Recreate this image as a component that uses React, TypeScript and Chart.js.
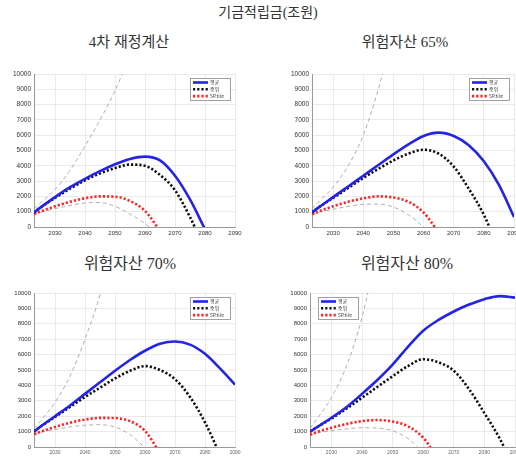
import React, { useEffect, useRef } from 'react';
import { Chart, registerables } from 'chart.js';

Chart.register(...registerables);

// ---------- data ----------
const years = [2023, 2025, 2030, 2035, 2040, 2045, 2050, 2055, 2060, 2065, 2070, 2075, 2080, 2085, 2090];
const xTickYears = [2030, 2040, 2050, 2060, 2070, 2080, 2090];
const yTickValues = [0, 1000, 2000, 3000, 4000, 5000, 6000, 7000, 8000, 9000, 10000];
const seriesLabels = ['평균', '중위', '5P.tile'];

const mainTitle = '기금적립금(조원)';
const panelTitles = ['4차 재정계산', '위험자산 65%', '위험자산 70%', '위험자산 80%'];

// 4차 재정계산
const meanBase = [950, 1250, 1950, 2600, 3150, 3650, 4100, 4450, 4600, 4350, 3350, 1800, -150, null, null];
const medianBase = [950, 1250, 1900, 2500, 3050, 3500, 3850, 4080, 4000, 3400, 2400, 650, -1500, null, null];
const p5Base = [850, 1000, 1350, 1650, 1880, 2000, 1980, 1700, 1050, -250, null, null, null, null, null];
const upperBase = [1200, 1550, 2450, 3700, 5300, 7000, 8900, 11300, null, null, null, null, null, null, null];
const lowerBase = [850, 950, 1200, 1400, 1570, 1600, 1350, 850, 220, -600, null, null, null, null, null];

// 위험자산 65%
const mean65 = [950, 1250, 1950, 2650, 3350, 4050, 4750, 5400, 5950, 6170, 5950, 5350, 4300, 2750, 650];
const median65 = [950, 1250, 1900, 2550, 3200, 3800, 4350, 4800, 5050, 4800, 3950, 2500, 800, -1500, null];
const p5_65 = [830, 1000, 1350, 1650, 1870, 2000, 1930, 1650, 950, -350, null, null, null, null, null];
const upper65 = [1200, 1600, 2600, 4000, 6000, 9000, 12800, null, null, null, null, null, null, null, null];
const lower65 = [850, 950, 1150, 1350, 1480, 1500, 1300, 800, 0, -900, null, null, null, null, null];

// 위험자산 70%
const mean70 = [1000, 1300, 2000, 2700, 3450, 4200, 4950, 5650, 6250, 6700, 6850, 6650, 6050, 5100, 4050];
const median70 = [1000, 1300, 1950, 2600, 3250, 3850, 4450, 4950, 5250, 5000, 4400, 3250, 1600, -500, null];
const p5_70 = [830, 980, 1300, 1580, 1780, 1890, 1880, 1680, 1050, -400, null, null, null, null, null];
const upper70 = [1200, 1650, 2900, 4600, 7000, 9900, 14000, null, null, null, null, null, null, null, null];
const lower70 = [850, 950, 1130, 1300, 1420, 1450, 1300, 800, -50, -1000, null, null, null, null, null];

// 위험자산 80%
const mean80 = [1000, 1250, 1900, 2600, 3450, 4350, 5350, 6500, 7550, 8250, 8800, 9250, 9600, 9800, 9700];
const median80 = [1000, 1250, 1850, 2500, 3200, 3900, 4600, 5250, 5700, 5500, 4950, 3750, 2200, 550, -1500];
const p5_80 = [800, 950, 1250, 1500, 1680, 1750, 1650, 1350, 600, -800, null, null, null, null, null];
const upper80 = [1200, 1750, 3200, 5300, 8400, 13000, null, null, null, null, null, null, null, null, null];
const lower80 = [800, 900, 1050, 1180, 1250, 1230, 1050, 550, -350, null, null, null, null, null, null];

type Series = (number | null)[];

const boxLegend = {
  id: 'boxLegend',
  afterDatasetsDraw(chart: any, _args: any, opts: any) {
    const { ctx, chartArea } = chart;
    const w = 40;
    const h = 22;
    const x = opts.side === 'left' ? chartArea.left + 8 : chartArea.right - 5 - w;
    const y = chartArea.top + 4;
    ctx.save();
    ctx.fillStyle = '#ffffff';
    ctx.fillRect(x, y, w, h);
    ctx.strokeStyle = '#8a8a8a';
    ctx.lineWidth = 0.8;
    ctx.strokeRect(x + 0.5, y + 0.5, w, h);
    chart.data.datasets.slice(0, 3).forEach((ds: any, i: number) => {
      const ly = y + 4.5 + i * 6.8;
      ctx.beginPath();
      ctx.setLineDash(ds.borderDash || []);
      ctx.strokeStyle = ds.borderColor;
      ctx.lineWidth = ds.borderWidth;
      ctx.moveTo(x + 3, ly);
      ctx.lineTo(x + 18, ly);
      ctx.stroke();
      ctx.setLineDash([]);
      ctx.fillStyle = '#444';
      ctx.font = '5px "Noto Sans CJK KR", sans-serif';
      ctx.textBaseline = 'middle';
      ctx.textAlign = 'left';
      ctx.fillText(ds.label, x + 20, ly);
    });
    ctx.restore();
  },
};

type PanelProps = {
  left: number;
  top: number;
  width: number;
  height: number;
  padTop: number;
  padRight: number;
  xAxisH: number;
  xFont: number;
  yFont: number;
  xColor: string;
  mean: Series;
  median: Series;
  p5: Series;
  upper: Series;
  lower: Series;
  side: 'left' | 'right';
};

function Panel(p: PanelProps) {
  const ref = useRef<HTMLCanvasElement>(null);
  useEffect(() => {
    if (!ref.current) return;
    const mk = (label: string, data: Series, color: string, width: number, dash: number[]) => ({
      label,
      data: years.map((x, i) => ({ x, y: data[i] })),
      borderColor: color,
      backgroundColor: color,
      borderWidth: width,
      borderDash: dash,
      borderCapStyle: 'butt',
      pointRadius: 0,
      fill: false,
      cubicInterpolationMode: 'monotone',
      spanGaps: false,
    });
    const chart = new Chart(ref.current, {
      type: 'line',
      data: {
        datasets: [
          mk(seriesLabels[0], p.mean, '#2424e8', 2.6, []),
          mk(seriesLabels[1], p.median, '#111111', 2.6, [2.2, 2]),
          mk(seriesLabels[2], p.p5, '#ff2424', 2.6, [2.2, 2]),
          mk('95P', p.upper, '#9a9a9a', 0.8, [4, 3]),
          mk('5P lower', p.lower, '#9a9a9a', 0.8, [4, 3]),
        ] as any,
      },
      options: {
        animation: false,
        responsive: false,
        devicePixelRatio: 1,
        layout: { padding: { top: p.padTop, right: p.padRight, left: 0, bottom: 0 } },
        plugins: {
          legend: { display: false },
          tooltip: { enabled: false },
          boxLegend: { side: p.side },
        } as any,
        scales: {
          x: {
            type: 'linear',
            min: 2023,
            max: 2090,
            afterBuildTicks: (s: any) => {
              s.ticks = xTickYears.map((v) => ({ value: v }));
            },
            afterFit: (s: any) => {
              s.height = p.xAxisH;
            },
            grid: { color: '#e4e4e4', lineWidth: 0.8, drawTicks: false },
            border: { color: '#9a9a9a', width: 1 },
            ticks: {
              padding: 3,
              autoSkip: false,
              maxRotation: 0,
              color: p.xColor,
              font: { family: '"Liberation Sans", Arial, sans-serif', size: p.xFont },
              callback: (v: any) => String(v),
            },
          },
          y: {
            min: 0,
            max: 10000,
            afterBuildTicks: (s: any) => {
              s.ticks = yTickValues.map((v) => ({ value: v }));
            },
            afterFit: (s: any) => {
              s.width = 34;
            },
            grid: { color: '#e4e4e4', lineWidth: 0.8, drawTicks: false },
            border: { color: '#9a9a9a', width: 1 },
            ticks: {
              padding: 3,
              autoSkip: false,
              color: '#333',
              font: { family: '"Liberation Sans", Arial, sans-serif', size: p.yFont },
              callback: (v: any) => String(v),
            },
          },
        },
      } as any,
      plugins: [boxLegend as any],
    });
    return () => chart.destroy();
  }, []);
  return (
    <canvas
      ref={ref}
      width={p.width}
      height={p.height}
      style={{ position: 'absolute', left: p.left, top: p.top, width: p.width, height: p.height, display: 'block' }}
    />
  );
}

const titleFont = '"Liberation Serif", "Noto Sans CJK KR", serif';

function Title({ text, x, y, size }: { text: string; x: number; y: number; size: number }) {
  return (
    <div
      style={{
        position: 'absolute',
        left: x,
        top: y,
        transform: 'translate(-50%, -50%)',
        whiteSpace: 'nowrap',
        fontFamily: titleFont,
        fontSize: size,
        color: '#333',
        lineHeight: 1,
      }}
    >
      {text}
    </div>
  );
}

export default function App() {
  return (
    <div
      style={{
        position: 'fixed',
        left: 0,
        top: 0,
        width: 516,
        height: 457,
        overflow: 'hidden',
        background: '#fff',
      }}
    >
      <Title text={mainTitle} x={268} y={13} size={14} />
      <Title text={panelTitles[0]} x={129} y={42} size={15} />
      <Title text={panelTitles[1]} x={405} y={42} size={15} />
      <Title text={panelTitles[2]} x={130} y={264} size={16} />
      <Title text={panelTitles[3]} x={407} y={264} size={16} />
      <Panel
        left={0} top={60} width={250} height={185} padTop={14} padRight={15} xAxisH={18}
        xFont={6} yFont={6.5} xColor="#333"
        mean={meanBase} median={medianBase} p5={p5Base} upper={upperBase} lower={lowerBase} side="right"
      />
      <Panel
        left={278} top={60} width={252} height={185} padTop={14} padRight={16} xAxisH={18}
        xFont={6} yFont={6.5} xColor="#333"
        mean={mean65} median={median65} p5={p5_65} upper={upper65} lower={lower65} side="right"
      />
      <Panel
        left={0} top={280} width={250} height={177} padTop={13} padRight={15} xAxisH={10}
        xFont={5} yFont={6} xColor="#666"
        mean={mean70} median={median70} p5={p5_70} upper={upper70} lower={lower70} side="right"
      />
      <Panel
        left={276} top={280} width={255} height={177} padTop={13} padRight={16} xAxisH={10}
        xFont={5} yFont={6} xColor="#666"
        mean={mean80} median={median80} p5={p5_80} upper={upper80} lower={lower80} side="left"
      />
    </div>
  );
}
